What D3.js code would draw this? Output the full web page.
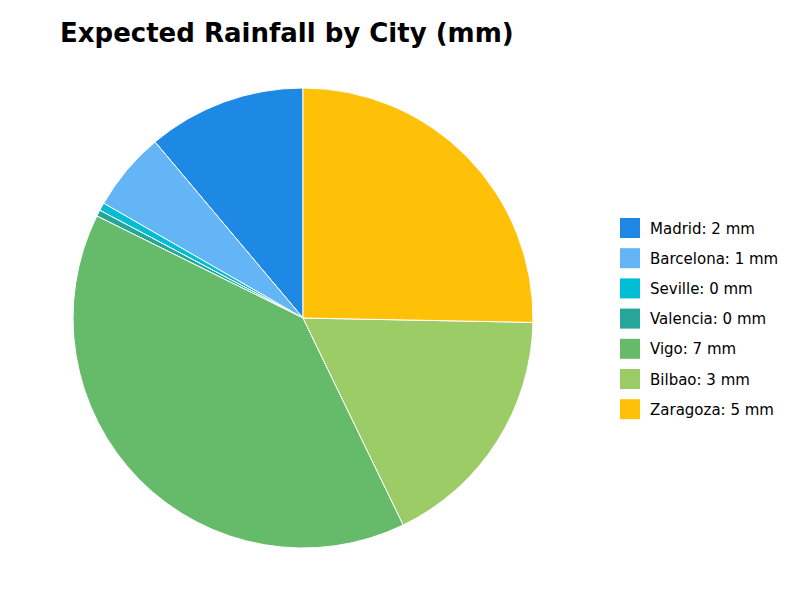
<!DOCTYPE html>
<html><head><meta charset="utf-8">
<script src="https://cdn.jsdelivr.net/npm/d3@7"></script>
<style>body{margin:0;background:#fff}</style>
</head><body><div id="chart"></div>
<script>
var cities = ['Madrid', 'Barcelona', 'Seville', 'Valencia', 'Vigo', 'Bilbao', 'Zaragoza'];
var rainfall = [2.0, 1.0, 0.1, 0.08, 7.1, 3.15, 4.55];
var colors = ['#1e88e5', '#64b5f6', '#00bcd4', '#26a69a', '#66bb6a', '#9ccc65', '#ffc107'];

var svg = d3.select('#chart').append('svg').attr('width', 800).attr('height', 600);

svg.append('text').attr('x', 60).attr('y', 42)
  .style('font-family', 'DejaVu Sans').style('font-size', '26px').style('font-weight', 'bold')
  .text('Expected Rainfall by City (mm)');

var data = cities.map(function(c, i) { return {city: c, value: rainfall[i], color: colors[i]}; });

// counterclockwise from the top
var pie = d3.pie().sort(null).value(function(d) { return d.value; })
  .startAngle(0).endAngle(-2 * Math.PI);
var arc = d3.arc().innerRadius(0).outerRadius(230);

var g = svg.append('g').attr('transform', 'translate(303,318)');
g.selectAll('path').data(pie(data)).enter().append('path')
  .attr('d', arc).attr('fill', function(d) { return d.data.color; })
  .attr('stroke', '#fff').attr('stroke-width', 1);

var legend = svg.append('g').attr('transform', 'translate(620,218)');
var item = legend.selectAll('g').data(data).enter().append('g')
  .attr('transform', function(d, i) { return 'translate(0,' + i * 30.2 + ')'; });
item.append('rect').attr('width', 20).attr('height', 20).attr('fill', function(d) { return d.color; });
item.append('text').attr('x', 30).attr('y', 15.5)
  .style('font-family', 'DejaVu Sans').style('font-size', '15px')
  .text(function(d) { return d.city + ': ' + Math.round(d.value) + ' mm'; });
</script></body></html>
